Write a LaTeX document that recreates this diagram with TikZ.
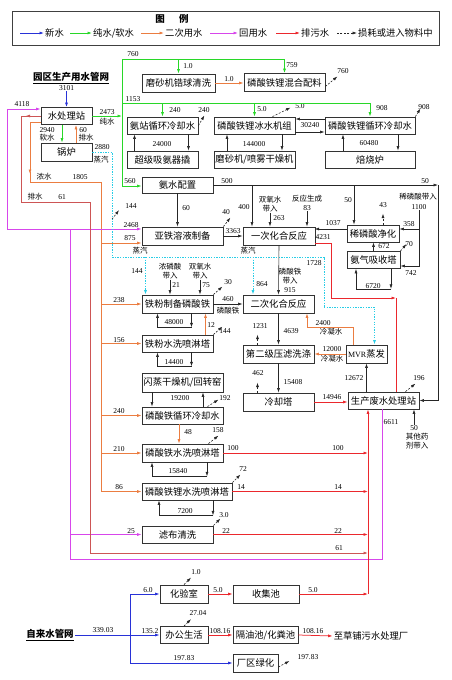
\documentclass[tikz,border=0pt]{standalone}
\usepackage{fontspec}
\setmainfont{Liberation Serif}
\newfontfamily\cjk{Noto Sans CJK SC}
\usetikzlibrary{arrows.meta,calc,positioning}

\definecolor{freshblue}{RGB}{40,50,215}
\definecolor{puregreen}{RGB}{40,215,40}
\definecolor{secorange}{RGB}{235,125,65}
\definecolor{reusemag}{RGB}{215,70,235}
\definecolor{wastered}{RGB}{235,40,45}
\definecolor{drainred}{RGB}{205,85,85}
\definecolor{steamcyan}{RGB}{40,205,230}

\tikzset{
	box/.style={draw=black!80, line width=0.8pt, inner sep=0pt, minimum height=17pt, font=\fontsize{9.3}{10}\cjk},
	lg/.style={inner sep=1pt, font=\fontsize{9.3}{10}\cjk},
	num/.style={inner sep=0.5pt, font=\fontsize{7.5}{8}\selectfont},
	zh/.style={inner sep=0.5pt, align=center, font=\fontsize{7.5}{9}\cjk},
	heading/.style={inner sep=1pt, font=\fontsize{9.5}{10}\cjk\bfseries},
	flow/.style={draw=black!85, line width=0.6pt},
	fresh/.style={draw=freshblue, line width=0.75pt},
	pure/.style={draw=puregreen, line width=0.75pt},
	sec/.style={draw=secorange, line width=0.75pt},
	reuse/.style={draw=reusemag, line width=0.75pt},
	waste/.style={draw=wastered, line width=0.75pt},
	drain/.style={draw=drainred, line width=0.75pt},
	steam/.style={draw=steamcyan, line width=0.9pt, dash pattern=on 1.3pt off 1.3pt},
	loss/.style={draw=black!85, line width=0.6pt, dash pattern=on 2pt off 1.5pt}
}

\begin{document}
\begin{tikzpicture}[x=1pt, y=-1pt, >={Latex[length=4.5pt,width=3pt]}]
	\useasboundingbox (0,0) rectangle (452,680);

	\node[draw=black!75, line width=0.8pt, minimum width=427, minimum height=34, inner sep=0pt] (legend) at (225.5,28) {};
	\node[font=\fontsize{9.5}{10}\cjk\bfseries] (legtitle) at (172,19) {图\hspace{1.5em}例};
	\node[lg, anchor=west] (lgnew) at (44,33) {新水};
	\node[lg, anchor=west] (lgpure) at (92,33) {纯水/软水};
	\node[lg, anchor=west] (lgsec) at (164,33) {二次用水};
	\node[lg, anchor=west] (lgreuse) at (238,33) {回用水};
	\node[lg, anchor=west] (lgwaste) at (300,33) {排污水};
	\node[lg, anchor=west] (lgloss) at (357,33) {损耗或进入物料中};

	\node[heading] (park) at (71,78) {\underline{园区生产用水管网}};
	\node[heading] (tap) at (50,635) {\underline{自来水管网}};
	\node[lg] (dest) at (371,636) {至草铺污水处理厂};

	\node[box, minimum width=51] (ws) at (66.5,116) {水处理站};
	\node[box, minimum width=51, minimum height=18] (boil) at (66.5,152) {锅炉};
	\node[box, minimum width=73, minimum height=18] (zr) at (178.5,83) {磨砂机锆球清洗};
	\node[box, minimum width=81, minimum height=18] (mix) at (284.5,82.5) {磷酸铁锂混合配料};
	\node[box, minimum width=71] (ams) at (162.5,125.5) {氨站循环冷却水};
	\node[box, minimum width=81] (chill) at (254.5,125.5) {磷酸铁锂冰水机组};
	\node[box, minimum width=90] (lcw) at (370,125.5) {磷酸铁锂循环冷却水};
	\node[box, minimum width=71] (sup) at (162.5,159.5) {超级吸氨器撬};
	\node[box, minimum width=81] (spray) at (254.5,159.5) {磨砂机/喷雾干燥机};
	\node[box, minimum width=90] (kiln) at (370,159.5) {焙烧炉};
	\node[box, minimum width=71, minimum height=16] (amw) at (177.5,185) {氨水配置};
	\node[box, minimum width=81, minimum height=18] (fes) at (182.5,236) {亚铁溶液制备};
	\node[box, minimum width=72, minimum height=18] (r1) at (279,236) {一次化合反应};
	\node[box, minimum width=52] (dpa) at (373,233.5) {稀磷酸净化};
	\node[box, minimum width=53] (nh3) at (373.5,260) {氨气吸收塔};
	\node[box, minimum width=71, minimum height=18] (fpp) at (177.5,304) {铁粉制备磷酸铁};
	\node[box, minimum width=71, minimum height=18] (r2) at (278.5,304) {二次化合反应};
	\node[box, minimum width=71] (fwt) at (177.5,343.5) {铁粉水洗喷淋塔};
	\node[box, minimum width=71, minimum height=18] (fp2) at (278.5,354) {第二级压滤洗涤};
	\node[box, minimum width=41, minimum height=18] (mvr) at (366.5,354) {{\rmfamily\fontsize{8}{8}\selectfont MVR}蒸发};
	\node[box, minimum width=81, minimum height=19] (flash) at (182.5,382.5) {闪蒸干燥机/回转窑};
	\node[box, minimum width=71, minimum height=18] (ct) at (278.5,402) {冷却塔};
	\node[box, minimum width=71] (wwt) at (383.5,400.5) {生产废水处理站};
	\node[box, minimum width=81] (fcw) at (182.5,415.5) {磷酸铁循环冷却水};
	\node[box, minimum width=81, minimum height=18] (fwash) at (182.5,453) {磷酸铁水洗喷淋塔};
	\node[box, minimum width=90] (lwash) at (187,491.5) {磷酸铁锂水洗喷淋塔};
	\node[box, minimum width=71] (cloth) at (177.5,534.5) {滤布清洗};
	\node[box, minimum width=48, minimum height=18] (lab) at (184,594) {化验室};
	\node[box, minimum width=66, minimum height=18] (coll) at (266,594) {收集池};
	\node[box, minimum width=48] (off) at (184,635) {办公生活};
	\node[box, minimum width=65] (sep) at (265.5,635) {隔油池/化粪池};
	\node[box, minimum width=45, minimum height=18] (green) at (255.5,663) {厂区绿化};

	\node[num] (n3101) at (66.5,88) {3101};
	\node[num] (t2473) at (107,112) {2473};
	\node[zh] (tcs) at (107,122) {纯水};
	\node[num] (t760a) at (133,54) {760};
	\node[num] (t759) at (292,65) {759};
	\node[num] (t10a) at (188,66) {1.0};
	\node[num] (t10b) at (229,79) {1.0};
	\node[num] (t760b) at (343,71) {760};
	\node[num] (t1153) at (133,99) {1153};
	\node[num] (t240a) at (175,110) {240};
	\node[num] (t240b) at (204,110) {240};
	\node[num] (t50a) at (262,109) {5.0};
	\node[num] (t50c) at (300,106) {5.0};
	\node[num] (t908a) at (382,108) {908};
	\node[num] (t908b) at (424,107) {908};
	\node[num] (t30240) at (310,125.5) {30240};
	\node[num] (t24000) at (162,144) {24000};
	\node[num] (t144000) at (254,144) {144000};
	\node[num] (t60480) at (369,143) {60480};
	\node[num] (t2940) at (47,130) {2940};
	\node[zh] (tsoft) at (47,138) {软水};
	\node[num] (t60a) at (83,130) {60};
	\node[zh] (tdis) at (86,138) {排水};
	\node[num] (t2880) at (102,147) {2880};
	\node[zh] (tst1) at (101,160) {蒸汽};
	\node[num] (t4118) at (22,104) {4118};
	\node[zh] (tconc) at (44,177) {浓水};
	\node[num] (t1805) at (80,177) {1805};
	\node[zh] (tdis2) at (35,197) {排水};
	\node[num] (t61a) at (62,197) {61};
	\node[num] (t560) at (130,181) {560};
	\node[num] (t500) at (227,181) {500};
	\node[num] (t50top) at (425,181) {50};
	\node[num] (t144a) at (131,206) {144};
	\node[num] (t60b) at (186,208) {60};
	\node[num] (t40) at (226,212) {40};
	\node[num] (t2468) at (131,225) {2468};
	\node[num] (t875) at (130,238) {875};
	\node[num] (t3363) at (233,231) {3363};
	\node[num] (t400) at (244,207) {400};
	\node[zh] (th2a) at (270,204) {双氧水\\带入};
	\node[num] (t263) at (279,218) {263};
	\node[zh] (trx) at (307,199) {反应生成};
	\node[num] (t83) at (307,208) {83};
	\node[num] (t50d) at (348,200) {50};
	\node[num] (t43) at (383,205) {43};
	\node[zh] (tdpin) at (418,197) {稀磷酸带入};
	\node[num] (t1100) at (419,207) {1100};
	\node[num] (t358) at (409,224) {358};
	\node[num] (t1037) at (333,223) {1037};
	\node[num] (t4231) at (323,237) {4231};
	\node[num] (t672) at (384,246.5) {672};
	\node[num] (t70) at (409,244) {70};
	\node[num] (t742) at (411,273) {742};
	\node[num] (t6720) at (373,286) {6720};
	\node[zh] (tst2) at (140,251) {蒸汽};
	\node[zh] (tst3) at (248,251) {蒸汽};
	\node[num] (t144b) at (137,271) {144};
	\node[num] (t864) at (262,284) {864};
	\node[num] (t1728) at (314,263) {1728};
	\node[zh] (thpa) at (170,271) {浓磷酸\\带入};
	\node[num] (t21) at (176,285) {21};
	\node[zh] (th2b) at (200,271) {双氧水\\带入};
	\node[num] (t75) at (206,285) {75};
	\node[num] (t30) at (228,282) {30};
	\node[zh] (tfe) at (290,276) {磷酸铁\\带入};
	\node[num] (t915) at (290,290) {915};
	\node[num] (t238) at (119,300) {238};
	\node[num] (t460) at (228,299) {460};
	\node[zh] (tfe460) at (228,311) {磷酸铁};
	\node[num] (t48000) at (174,322) {48000};
	\node[num] (t12) at (211,325) {12};
	\node[num] (t144c) at (225,331) {144};
	\node[num] (t156) at (119,340) {156};
	\node[num] (t14400) at (174,362) {14400};
	\node[num] (t1231) at (260,326) {1231};
	\node[num] (t4639) at (291,331) {4639};
	\node[num] (t2400) at (323,323) {2400};
	\node[zh] (tcond1) at (331,332) {冷凝水};
	\node[num] (t12000) at (332,349) {12000};
	\node[zh] (tcond2) at (332,359) {冷凝水};
	\node[num] (t462) at (258,373) {462};
	\node[num] (t15408) at (293,382) {15408};
	\node[num] (t12672) at (354,378) {12672};
	\node[num] (t196) at (419,378) {196};
	\node[num] (t19200) at (180,398) {19200};
	\node[num] (t192) at (225,398) {192};
	\node[num] (t14946) at (332,397) {14946};
	\node[num] (t240c) at (119,411) {240};
	\node[num] (t6611) at (391,422) {6611};
	\node[num] (t50b) at (414,428) {50};
	\node[zh] (tother) at (417,441) {其他药\\剂带入};
	\node[num] (t48) at (188,432) {48};
	\node[num] (t158) at (218,430) {158};
	\node[num] (t210) at (119,449) {210};
	\node[num] (t100a) at (233,448) {100};
	\node[num] (t100b) at (338,448) {100};
	\node[num] (t15840) at (178,471) {15840};
	\node[num] (t72) at (243,469) {72};
	\node[num] (t86) at (119,487) {86};
	\node[num] (t14a) at (241,487) {14};
	\node[num] (t14b) at (338,487) {14};
	\node[num] (t7200) at (185,511) {7200};
	\node[num] (t30b) at (224,515) {3.0};
	\node[num] (t25) at (131,531) {25};
	\node[num] (t22a) at (226,531) {22};
	\node[num] (t22b) at (338,531) {22};
	\node[num] (t61b) at (339,548) {61};
	\node[num] (t10c) at (196,572) {1.0};
	\node[num] (t60c) at (148,590) {6.0};
	\node[num] (t50e) at (218,590) {5.0};
	\node[num] (t50f) at (313,590) {5.0};
	\node[num] (t2704) at (198,613) {27.04};
	\node[num] (t33903) at (103,630) {339.03};
	\node[num] (t1352) at (150,631) {135.2};
	\node[num] (t10816a) at (220,631) {108.16};
	\node[num] (t10816b) at (313,631) {108.16};
	\node[num] (t19783a) at (184,658) {197.83};
	\node[num] (t19783b) at (308,657) {197.83};

	\coordinate (gtop) at (122,59);
	\coordinate (gmid) at (122,103);
	\coordinate (gbot) at (122,186);
	\coordinate (ojoin) at (30,182);
	\coordinate (ocorner) at (101,182);
	\coordinate (oend) at (101,491.5);
	\coordinate (mleft) at (7,229);
	\coordinate (mtop) at (7,109);
	\coordinate (mjoin) at (70,229);
	\coordinate (mlow) at (70,559);
	\coordinate (mright) at (382,559);
	\coordinate (dtop) at (21,116);
	\coordinate (dbend) at (21,202);
	\coordinate (dcross) at (90,202);
	\coordinate (dlow) at (90,553);
	\coordinate (rcol) at (368,594);
	\coordinate (sboil) at (112,152);
	\coordinate (sdown) at (112,257);
	\coordinate (sfe) at (145.5,257);
	\coordinate (sr2) at (253,257);
	\coordinate (sturn) at (324,257);
	\coordinate (sjog) at (324,307);
	\coordinate (bout) at (438,185);
	\coordinate (b400) at (252,185);
	\coordinate (b50) at (354,185);
	\coordinate (qa) at (331,243);
	\coordinate (qb) at (331,298);
	\coordinate (qc) at (396,298);
	\coordinate (c2400) at (307,327);
	\coordinate (tapv) at (130,635);

	\draw[fresh,<-] (lgnew.west) -- ++(-24,0);
	\draw[pure,<-] (lgpure.west) -- ++(-22,0);
	\draw[sec,<-] (lgsec.west) -- ++(-23,0);
	\draw[reuse,<-] (lgreuse.west) -- ++(-28,0);
	\draw[waste,<-] (lgwaste.west) -- ++(-24,0);
	\draw[loss,<-] (lgloss.west) -- ++(-20,0);

	\draw[fresh,->] (n3101.south) -- (n3101.south |- ws.north);
	\draw[fresh,->] (tap.east) -- (off.west);
	\draw[fresh,->] (tapv) |- (lab.west);
	\draw[fresh,->] (tapv) |- (green.west);

	\draw[pure,->] (ws.east) -- (ws.east -| gtop);
	\draw[pure] (gbot) -- (gtop);
	\draw[pure,->] (gtop) -| (mix.north);
	\draw[pure,->] (zr.north |- gtop) -- (zr.north);
	\draw[pure,->] (gmid) -| (lcw.north);
	\draw[pure,->] (ams.north |- gmid) -- (ams.north);
	\draw[pure,->] (chill.north |- gmid) -- (chill.north);
	\draw[pure,->] (gbot) -- (gbot -| amw.west);
	\draw[pure,->] ([xshift=-4.5]ws.south) -- ([xshift=-4.5]boil.north);

	\draw[sec,->] ([xshift=9.5]boil.north) -- ([xshift=9.5]ws.south);
	\draw[sec,->] (zr.east) -- (zr.east -| mix.west);
	\draw[sec,->] ([yshift=-6]ws.west) -| ($(ojoin)+(0,-8)$);
	\draw[sec] ($(ojoin)+(0,-10)$) -- (ojoin) -- (ocorner) -- (oend);
	\draw[sec,<-] ([yshift=-7]fes.west) -- ++(-41,0);
	\draw[sec,->] (fpp.west -| oend) -- (fpp.west);
	\draw[sec,->] (fwt.west -| oend) -- (fwt.west);
	\draw[sec,->] (fcw.west -| oend) -- (fcw.west);
	\draw[sec,->] (fwash.west -| oend) -- (fwash.west);
	\draw[sec,->] (oend) -- (lwash.west);
	\draw[sec,->] ([xshift=28]fwt.north) -- ([xshift=28]fpp.south);
	\draw[sec,->] ([xshift=-3.5]fcw.south) -- ([xshift=-3.5]fwash.north);
	\draw[sec,->] (mvr.west) -- (fp2.east);
	\draw[sec,->] ([xshift=-13.5]mvr.north) |- (c2400) -- (c2400 |- r2.south);

	\draw[reuse,->] (mjoin) -- (mleft) -- (mtop) -- (mtop -| ws.west);
	\draw[reuse,->] (mleft) -- ([yshift=7]fes.west);
	\draw[reuse] (mright |- wwt.south) -- (mright) -- (mlow) -- (mjoin);
	\draw[reuse,->] (mlow |- cloth.west) -- (cloth.west);

	\draw[drain,->] (ws.west) -- ++(-15,0);
	\draw[drain] (ws.west) -- (dtop) -- (dbend) -- (dcross) -- (dlow);
	\draw[drain,->] (dlow) -- (dlow -| rcol);
	\draw[waste,->] ([yshift=-7]r1.east) -- (qa) -- (qb) -- (qc);
	\draw[waste] (qc) -- (qc |- wwt.north);
	\draw[waste,->] (ct.east) -- (ct.east -| wwt.west);
	\draw[waste,->] (fwash.east) -- (fwash.east -| rcol);
	\draw[waste,->] (lwash.east) -- (lwash.east -| rcol);
	\draw[waste,->] (cloth.east) -- (cloth.east -| rcol);
	\draw[waste,->] (lab.east) -- (coll.west);
	\draw[waste,->] (coll.east) -- (rcol);
	\draw[waste,->] (rcol) -- (rcol |- wwt.south);
	\draw[waste,->] (off.east) -- (sep.west);
	\draw[waste,->] (sep.east) -- (dest.west);

	\draw[steam] (boil.east) -- (sboil) -- (sdown) -- (sturn) -- (sjog);
	\draw[steam,->] (sjog) -| ([xshift=8]mvr.north);
	\draw[steam,->] (sfe) -- (sfe |- fpp.north);
	\draw[steam,->] (sr2) -- (sr2 |- r2.north);

	\draw[flow,->] (amw.east) -- (bout);
	\draw[flow,->] (bout) |- (wwt.east);
	\draw[flow,->] (b400) -- (b400 |- r1.north);
	\draw[flow,->] (b50) -- (b50 |- dpa.north);
	\draw[flow,->] (amw.south) -- (amw.south |- fes.north);
	\draw[flow,->] (fes.east) -- (r1.west);
	\draw[flow,->] ([yshift=4.5]dpa.west) -- ++(-32,0);
	\draw[flow,<-] ([yshift=4.5]dpa.east) -- ++(20,0);
	\draw[flow,->] (t1100.south) |- ([yshift=-6]nh3.east);
	\draw[flow,->] (nh3.north) -- (nh3.north |- dpa.south);
	\draw[flow,->] (r1.south) -- (r2.north);
	\draw[flow,->] (fpp.east) -- (r2.west);
	\draw[flow,->] (r2.south) -- (fp2.north);
	\draw[flow,->] (fp2.south) -- (ct.north);
	\draw[flow,->] (wwt.north -| mvr.south) -- (mvr.south);
	\draw[flow,->] (t50b.north) -- (t50b.north |- wwt.south);
	\draw[flow,->] (th2a.south) -- (th2a.south |- r1.north);
	\draw[flow,->] (t83.south) -- (t83.south |- r1.north);
	\draw[flow,->] (thpa.south) -- (thpa.south |- fpp.north);
	\draw[flow,->] (th2b.south) -- (th2b.south |- fpp.north);
	\draw[flow,->] ([yshift=6.5]lcw.west) -- ([yshift=6.5]chill.east);
	\draw[flow,->] ([yshift=-6.5]chill.east) -- ([yshift=-6.5]lcw.west);

	\draw[flow,->] ([xshift=26]ams.south) -- ([xshift=26]sup.north);
	\draw[flow,->] ([xshift=-28]sup.north) -- ([xshift=-28]ams.south);
	\draw[flow,->] ([xshift=27.5]chill.south) -- ([xshift=27.5]spray.north);
	\draw[flow,->] ([xshift=-27.5]spray.north) -- ([xshift=-27.5]chill.south);
	\draw[flow,->] ([xshift=28]lcw.south) -- ([xshift=28]kiln.north);
	\draw[flow,->] ([xshift=-27]kiln.north) -- ([xshift=-27]lcw.south);
	\draw[flow,->] ([xshift=-30.5]flash.south) -- ([xshift=-30.5]fcw.north);
	\draw[flow,->] ([xshift=20.5]fcw.north) -- ([xshift=20.5]flash.south);

	\draw[flow,->] ([xshift=14]fpp.south) -- ++(0,14);
	\draw[flow,->] ([xshift=14]fpp.south) ++(0,14) -| ([xshift=-20]fpp.south);
	\draw[flow,->] ([xshift=14]fwt.south) -- ++(0,14);
	\draw[flow,->] ([xshift=14]fwt.south) ++(0,14) -| ([xshift=-20]fwt.south);
	\draw[flow,->] ([xshift=24.5]fwash.south) -- ++(0,14);
	\draw[flow,->] ([xshift=24.5]fwash.south) ++(0,14) -| ([xshift=-30.5]fwash.south);
	\draw[flow,->] ([xshift=26]lwash.south) -- ++(0,15);
	\draw[flow,->] ([xshift=26]lwash.south) ++(0,15) -| ([xshift=-28]lwash.south);
	\draw[flow,->] ([xshift=17.5]nh3.south) -- ++(0,20);
	\draw[flow,->] ([xshift=17.5]nh3.south) ++(0,20) -| ([xshift=-17.5]nh3.south);

	\draw[loss,->] ([yshift=-4]mix.east) -- ++(12,-10);
	\draw[loss,->] (ams.east) -- ++(6,-10);
	\draw[loss,->] ([xshift=18]chill.north) -- ++(18,-9);
	\draw[loss,->] (lcw.north east) -- ++(5,-8);
	\draw[loss,->] ($(sboil)!0.64!(sdown)$) -- ++(7,-9);
	\draw[loss,->] (fes.north east) -- ++(7,-9);
	\draw[loss,->] ([xshift=10]dpa.north) -- ++(0,-11);
	\draw[loss,->] (nh3.north east) -- ++(6,-7);
	\draw[loss,->] (fpp.north east) -- ++(9,-8);
	\draw[loss,->] (fwt.north east) -- ++(9,-8);
	\draw[loss,->] ([xshift=-21]fp2.north) -- ++(0,-10);
	\draw[loss,->] ([xshift=-21]ct.north) -- ++(0,-10);
	\draw[loss,->] ([xshift=22]wwt.north) -- ++(10,-8);
	\draw[loss,->] ([xshift=25]fcw.north) -- ++(11,-7);
	\draw[loss,->] ([xshift=26]fwash.north) -- ++(10,-8);
	\draw[loss,->] (lwash.north east) -- ++(8,-8);
	\draw[loss,->] (cloth.north east) -- ++(7,-7);
	\draw[loss,->] (lab.north) -- ++(7,-7);
	\draw[loss,->] (off.north) -- ++(7,-7);
	\draw[loss,->] ([yshift=-4]green.east) -- ++(11,-6);
\end{tikzpicture}
\end{document}
